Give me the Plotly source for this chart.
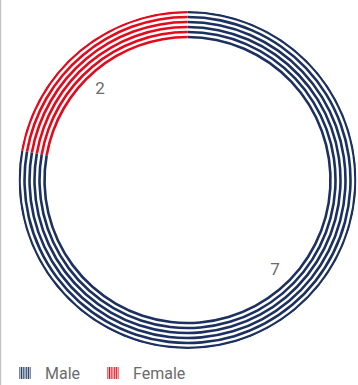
import plotly.graph_objects as go

# Gender split
categories = ["Male", "Female"]
values = [7, 2]
colors = ["#1c3160", "#e4091b"]

# Ring styling: six thin concentric stripes per slice
STRIPES = 6
R_OUTER = 168.0
PITCH = 5.0
THICK = 2.6
LABEL_R = 126
LABEL_SHIFT = -4  # degrees, labels sit slightly counter-clockwise of slice middle

total = sum(values)
spans = [v / total * 360 for v in values]
starts = [sum(spans[:i]) for i in range(len(spans))]
centers = [s + w / 2 for s, w in zip(starts, spans)]

fig = go.Figure()

for cat, w, c, col in zip(categories, spans, centers, colors):
    bases = [R_OUTER - THICK / 2 - PITCH * i for i in range(STRIPES)]
    fig.add_trace(go.Barpolar(
        r=[THICK] * STRIPES,
        base=bases,
        theta=[c] * STRIPES,
        width=[w] * STRIPES,
        marker=dict(color=col, line=dict(width=0)),
        name=cat,
        showlegend=False,
        hoverinfo="skip",
    ))

# Legend entries with striped swatches, one legend box per category
legend_ids = ["legend", "legend2"]
for cat, col, lid in zip(categories, colors, legend_ids):
    fig.add_trace(go.Barpolar(
        r=[0], theta=[0], width=[0],
        marker=dict(color="white", line=dict(width=0),
                    pattern=dict(shape="|", fgcolor=col, bgcolor="white",
                                 size=3, solidity=0.55, fillmode="replace")),
        name=cat,
        legend=lid,
        showlegend=True,
        hoverinfo="skip",
    ))

# Value labels near the middle of each slice
fig.add_trace(go.Scatterpolar(
    r=[LABEL_R] * len(values),
    theta=[c + LABEL_SHIFT for c in centers],
    mode="text",
    text=[str(v) for v in values],
    textfont=dict(family="Roboto", size=17, color="#6b6b6b"),
    showlegend=False,
    hoverinfo="skip",
))

legend_style = dict(
    orientation="h",
    xanchor="left",
    y=0.031, yanchor="middle",
    font=dict(family="Roboto", size=16, color="#6b6b6b"),
    itemclick=False, itemdoubleclick=False,
    bgcolor="rgba(0,0,0,0)",
)

fig.update_layout(
    width=358, height=385,
    margin=dict(l=0, r=0, t=0, b=0, autoexpand=False),
    paper_bgcolor="white",
    plot_bgcolor="white",
    polar=dict(
        domain=dict(x=[0.0517, 0.9958], y=[0.0935, 0.9714]),
        bgcolor="white",
        hole=0,
        radialaxis=dict(range=[0, 169], visible=False, showgrid=False),
        angularaxis=dict(direction="clockwise", rotation=90, visible=False,
                         showgrid=False),
        barmode="overlay",
    ),
    legend=dict(x=0.014, **legend_style),
    legend2=dict(x=0.26, **legend_style),
    shapes=[dict(type="line", xref="paper", yref="paper",
                 x0=0.002, x1=0.002, y0=0, y1=1,
                 line=dict(color="#b5b5b5", width=1))],
)

fig.write_html("out.html")
